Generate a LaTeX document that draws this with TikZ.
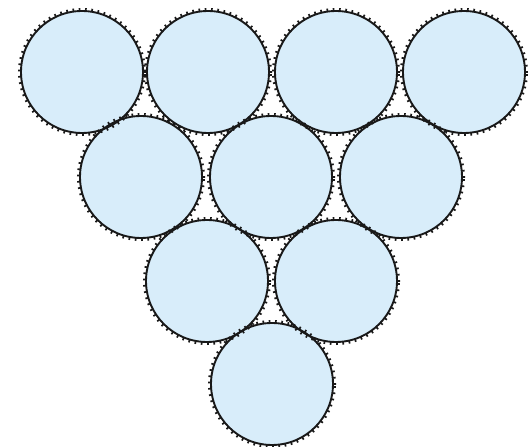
\documentclass[tikz,border=0pt]{standalone}
\usetikzlibrary{decorations.markings}
\definecolor{ballblue}{RGB}{216,237,250}
\definecolor{rimgray}{RGB}{25,25,25}
\begin{document}
\begin{tikzpicture}[x=1pt,y=1pt,
  ballfill/.style={fill=ballblue,draw=none},
  ballrim/.style={draw=rimgray,line width=1.9pt,postaction={decorate},
    decoration={markings,mark=between positions 0 and 1 step 0.016 with {\draw[rimgray,line width=1.7pt] (0,0) -- (0,-3pt);}}}]
\useasboundingbox[fill=white] (0,0) rectangle (528,447);
\def\balls{82/375, 208/375, 336/375, 464/375, 141/270, 271/270, 401/270, 207/166, 336/166, 272/63}
\foreach \x/\y in \balls {\fill[ballblue] (\x,\y) circle (61);}
\foreach \x/\y in \balls {\draw[ballrim] (\x,\y) circle (61);}
\end{tikzpicture}
\end{document}
